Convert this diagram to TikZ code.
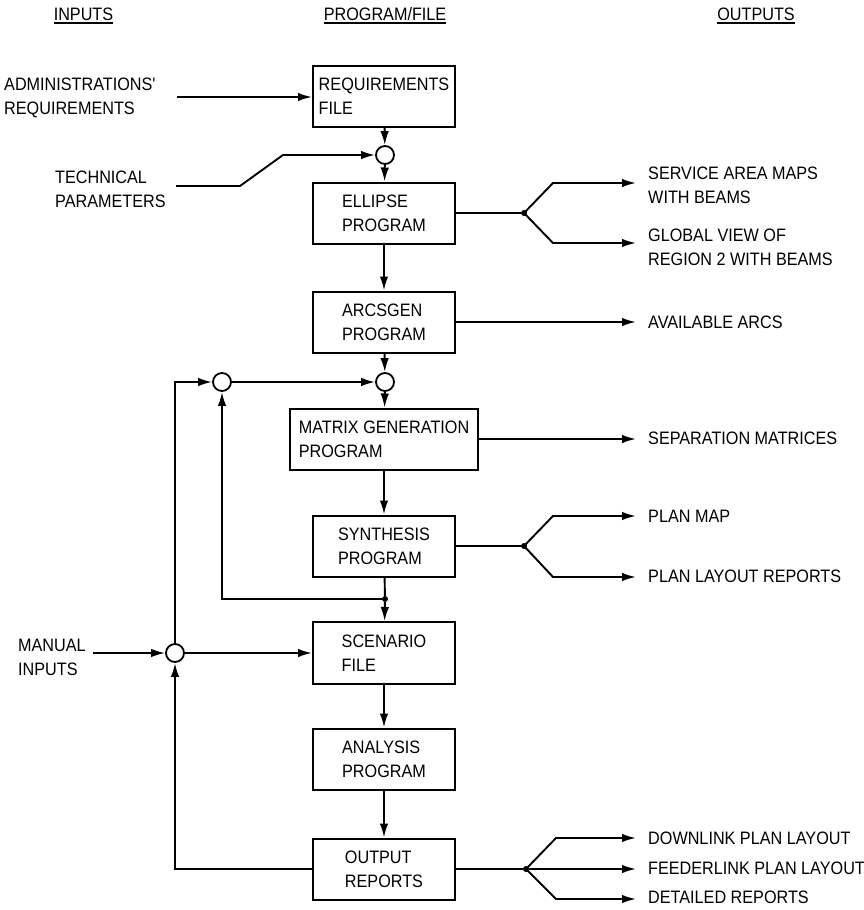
\documentclass[tikz,border=0pt]{standalone}
\usepackage{fontspec}
\setmainfont{Liberation Sans}[FakeStretch=0.9,Ligatures=TeXOff]
\usetikzlibrary{arrows.meta}
\begin{document}
\begin{tikzpicture}[x=1pt,y=-1pt,
  every node/.style={font=\fontsize{18}{24}\selectfont},
  box/.style={draw,line width=2pt,minimum width=142pt,minimum height=61pt,align=left,inner sep=0pt},
  junc/.style={draw,circle,line width=1.8pt,minimum size=18pt,inner sep=0pt},
  dotn/.style={circle,fill,minimum size=6pt,inner sep=0pt},
  lbl/.style={align=left,inner sep=0pt,anchor=west},
  hdr/.style={inner sep=0pt,text depth=0pt},
  ln/.style={line width=1.9pt},
  arr/.style={ln,-{Latex[length=14pt,width=8.5pt]}},
  ul/.style={line width=1.5pt}
]
\useasboundingbox (0,0) rectangle (864,910);

% headers
\node[hdr] (hin) at (83.5,14) {INPUTS};
\node[hdr] (hpf) at (385,14) {PROGRAM/FILE};
\node[hdr] (hout) at (756,14) {OUTPUTS};
\foreach \h in {hin,hpf,hout}
  \draw[ul] ([yshift=-2.5pt]\h.south west) -- ([yshift=-2.5pt]\h.south east);

% boxes
\node[box] (req) at (384,96) {REQUIREMENTS\\FILE};
\node[junc] (c1) at (385,155) {};
\node[box] (ell) at (384,213) {ELLIPSE\\PROGRAM};
\node[box] (arc) at (384,322) {ARCSGEN\\PROGRAM};
\node[junc] (c2) at (385,382) {};
\node[junc] (cL) at (222,382) {};
\node[box,minimum width=188pt] (mat) at (384,439) {MATRIX GENERATION\\PROGRAM};
\node[box] (syn) at (384,546) {SYNTHESIS\\PROGRAM};
\node[dotn] (j) at (385,599) {};
\node[box,minimum height=62pt] (scen) at (384,653) {SCENARIO\\FILE};
\node[junc] (cM) at (175,653) {};
\node[box] (ana) at (384,759) {ANALYSIS\\PROGRAM};
\node[box] (out) at (384,869) {OUTPUT\\REPORTS};

% inputs
\node[lbl] (adm) at (4,97.5) {ADMINISTRATIONS'\\REQUIREMENTS};
\node[lbl] (tech) at (55,189.5) {TECHNICAL\\PARAMETERS};
\node[lbl] (man) at (18,657) {MANUAL\\INPUTS};
\coordinate (adms) at (177,97);
\coordinate (tchs) at (176,186);
\coordinate (tch1) at (240,186);
\coordinate (tch2) at (283,155);
\coordinate (mans) at (93,653);

% outputs
\node[lbl] (o1) at (648,185) {SERVICE AREA MAPS\\WITH BEAMS};
\node[lbl] (o2) at (648,247.5) {GLOBAL VIEW OF\\REGION 2 WITH BEAMS};
\node[lbl] (o3) at (648,322) {AVAILABLE ARCS};
\node[lbl] (o4) at (648,438) {SEPARATION MATRICES};
\node[lbl] (o5) at (648,516) {PLAN MAP};
\node[lbl] (o6) at (648,576) {PLAN LAYOUT REPORTS};
\node[lbl] (o7) at (648,838) {DOWNLINK PLAN LAYOUT};
\node[lbl] (o8) at (648,868) {FEEDERLINK PLAN LAYOUT};
\node[lbl] (o9) at (648,897) {DETAILED REPORTS};

% branch dots and corners
\node[dotn] (d1) at (524,213) {};
\node[dotn] (d2) at (524,546) {};
\node[dotn] (d3) at (526,869) {};
\coordinate (e1) at (553,183);
\coordinate (e2) at (553,243);
\coordinate (t1) at (636,183);
\coordinate (t2) at (636,243);
\coordinate (t3) at (636,322);
\coordinate (t4) at (636,439);
\coordinate (s1) at (553,516);
\coordinate (s2) at (553,577);
\coordinate (t5) at (636,516);
\coordinate (t6) at (636,577);
\coordinate (r1) at (556,838);
\coordinate (r3) at (556,899);
\coordinate (t7) at (636,838);
\coordinate (t8) at (636,869);
\coordinate (t9) at (636,899);

% main chain
\draw[arr] (adms) -- (adms -| req.west);
\draw[arr] (req) -- (c1);
\draw[arr] (tchs) -- (tch1) -- (tch2) -- (c1);
\draw[arr] (c1) -- (ell);
\draw[arr] (ell) -- (arc);
\draw[arr] (arc) -- (c2);
\draw[arr] (cL) -- (c2);
\draw[arr] (c2) -- (mat);
\draw[arr] (mat) -- (syn);
\draw[ln] (syn) -- (j);
\draw[arr] (j) -- (scen);
\draw[arr] (j) -| (cL);
\draw[arr] (mans) -- (cM);
\draw[arr] (cM) -- (scen);
\draw[arr] (cM) |- (cL);
\draw[arr] (out) -| (cM);
\draw[arr] (scen) -- (ana);
\draw[arr] (ana) -- (out);

% outputs
\draw[ln] (ell) -- (d1);
\draw[arr] (d1.center) -- (e1) -- (t1);
\draw[arr] (d1.center) -- (e2) -- (t2);
\draw[arr] (arc.east) -- (t3);
\draw[arr] (mat.east) -- (t4);
\draw[ln] (syn) -- (d2);
\draw[arr] (d2.center) -- (s1) -- (t5);
\draw[arr] (d2.center) -- (s2) -- (t6);
\draw[ln] (out) -- (d3);
\draw[arr] (d3.center) -- (r1) -- (t7);
\draw[arr] (d3) -- (t8);
\draw[arr] (d3.center) -- (r3) -- (t9);
\end{tikzpicture}
\end{document}
